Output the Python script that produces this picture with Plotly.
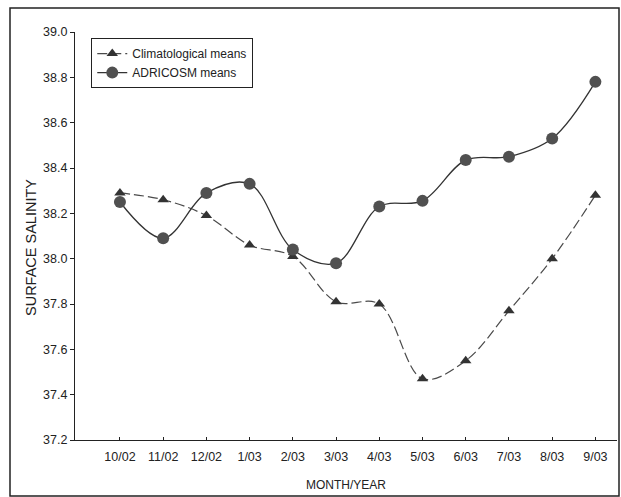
import plotly.graph_objects as go

months = ["10/02", "11/02", "12/02", "1/03", "2/03", "3/03", "4/03", "5/03", "6/03", "7/03", "8/03", "9/03"]
climatological = [38.29, 38.26, 38.19, 38.06, 38.01, 37.81, 37.80, 37.47, 37.55, 37.77, 38.00, 38.28]
adricosm = [38.25, 38.09, 38.29, 38.33, 38.04, 37.98, 38.23, 38.255, 38.435, 38.45, 38.53, 38.78]
y_ticks = [37.2, 37.4, 37.6, 37.8, 38.0, 38.2, 38.4, 38.6, 38.8, 39.0]

xs = list(range(len(months)))
font = dict(family="Liberation Sans, Arial, sans-serif", size=12, color="#222222")

fig = go.Figure()
fig.add_trace(go.Scatter(
    x=xs, y=climatological, name="Climatological means", mode="lines+markers",
    line=dict(color="#4a4a4a", width=1.2, dash="10px,4px", shape="spline", smoothing=1),
    marker=dict(symbol="triangle-up", size=10, color="#333333"),
))
fig.add_trace(go.Scatter(
    x=xs, y=adricosm, name="ADRICOSM means", mode="lines+markers",
    line=dict(color="#333333", width=1.3, shape="spline", smoothing=1),
    marker=dict(symbol="circle", size=12, color="#505050"),
))

fig.update_layout(
    width=621, height=497,
    margin=dict(l=75, r=4, t=32, b=57),
    paper_bgcolor="white", plot_bgcolor="white",
    font=font,
    showlegend=True,
    legend=dict(x=0.03, y=0.985, xanchor="left", yanchor="top",
                bordercolor="#222222", borderwidth=1, bgcolor="white",
                font=dict(family="Liberation Sans, Arial, sans-serif", size=12, color="#222222"),
                itemwidth=30, tracegroupgap=0),
    xaxis=dict(range=[-1.04, 11.5], tickmode="array", tickvals=xs, ticktext=months,
               showgrid=False, zeroline=False, showline=True, linecolor="#222222", linewidth=1.2,
               ticks="inside", ticklen=3, tickcolor="#222222", ticklabelstandoff=5,
               tickfont=dict(size=12.5),
               title=dict(text="MONTH/YEAR", font=dict(size=12, color="#222222"), standoff=17)),
    yaxis=dict(range=[37.2, 39.0], tickmode="array", tickvals=y_ticks,
               ticktext=[f"{v:.1f}" for v in y_ticks],
               showgrid=False, zeroline=False, showline=True, linecolor="#222222", linewidth=1.2,
               ticks="outside", ticklen=4, tickcolor="#222222",
               tickfont=dict(size=12.5)),
    annotations=[dict(text="SURFACE SALINITY", textangle=-90, showarrow=False,
                      xref="paper", yref="paper", x=(31 - 75) / 542, y=(440 - 248) / 408,
                      xanchor="center", yanchor="middle",
                      font=dict(size=14.5, color="#222222"))],
)

# outer frame around the figure
fig.add_shape(type="rect", xref="paper", yref="paper",
              x0=-65 / 542, x1=1.0 + 2 / 542, y0=-56 / 408, y1=1 + 24 / 408,
              line=dict(color="#222222", width=1.5), layer="below")

fig.write_html("out.html", config={"displayModeBar": False},
               post_script="document.body.style.margin='0';document.body.style.overflow='hidden';")
